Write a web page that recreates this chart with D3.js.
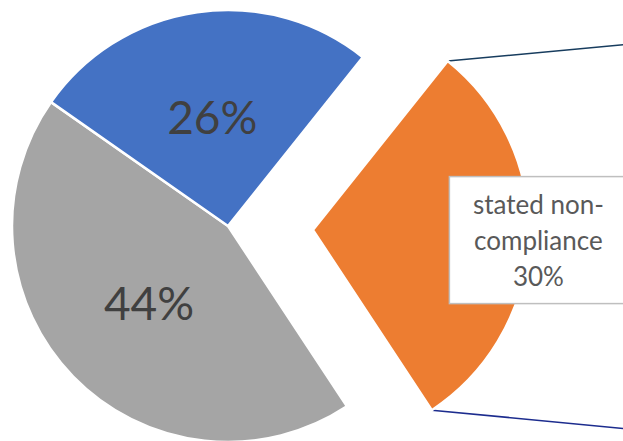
<!DOCTYPE html>
<html>
<head>
<meta charset="utf-8">
<script src="https://cdn.jsdelivr.net/npm/d3@7"></script>
<style>
  html, body { margin: 0; padding: 0; background: #fff; }
  svg { display: block; }
</style>
</head>
<body>
<svg id="chart" width="623" height="441"></svg>
<script>
// Pie slices, in drawing order
const categories = ["stated non-compliance", "other", "stated compliance"];
const values = [30, 44, 26];
const colors = ["#ED7D31", "#A5A5A5", "#4472C4"];
const showName = [true, false, false];

const width = 623, height = 441;
const cx = 228, cy = 226;
const radius = 216;
const explode = 85;            // orange slice pulled out
const startDeg = 38.6;         // first slice starts here (clockwise from 12 o'clock)

const svg = d3.select("#chart");
const g = svg.append("g").attr("transform", `translate(${cx},${cy})`);

const total = d3.sum(values);
const pie = d3.pie().sort(null).value(d => d.value)
  .startAngle(startDeg * Math.PI / 180)
  .endAngle(startDeg * Math.PI / 180 + 2 * Math.PI);

const data = pie(categories.map((c, i) => ({ name: c, value: values[i], color: colors[i], named: showName[i] })));

const arc = d3.arc().innerRadius(0).outerRadius(radius);
const labelArc = d3.arc().innerRadius(0).outerRadius(radius * 1.02);
const boxArc = d3.arc().innerRadius(radius * 1.045).outerRadius(radius * 1.045);

function offset(d) {
  if (!d.data.named) return [0, 0];
  const mid = (d.startAngle + d.endAngle) / 2;
  return [Math.sin(mid) * explode, -Math.cos(mid) * explode];
}

// Connector lines from the pulled-out slice to the secondary chart (off to the right)
const named = data.find(d => d.data.named);
const [ox, oy] = offset(named);
const topPt = [ox + Math.sin(named.startAngle) * radius, oy - Math.cos(named.startAngle) * radius];
const botPt = [ox + Math.sin(named.endAngle) * radius, oy - Math.cos(named.endAngle) * radius];
const farX = width - cx + 2;
g.append("line")
  .attr("x1", topPt[0]).attr("y1", topPt[1])
  .attr("x2", farX).attr("y2", topPt[1] - 16.5)
  .attr("stroke", "#173C5E").attr("stroke-width", 1.6);
g.append("line")
  .attr("x1", botPt[0]).attr("y1", botPt[1])
  .attr("x2", farX).attr("y2", botPt[1] + 18.5)
  .attr("stroke", "#1C2C8E").attr("stroke-width", 1.6);

// Slices
g.selectAll("path.slice").data(data).join("path")
  .attr("class", "slice")
  .attr("transform", d => `translate(${offset(d)})`)
  .attr("d", arc)
  .attr("fill", d => d.data.color)
  .attr("stroke", "#fff")
  .attr("stroke-width", 2.5)
  .attr("stroke-linejoin", "round");

const pct = d => Math.round(d.data.value / total * 100) + "%";

// Percent labels inside the plain slices
g.selectAll("text.pct").data(data.filter(d => !d.data.named)).join("text")
  .attr("class", "pct")
  .attr("x", d => labelArc.centroid(d)[0])
  .attr("y", d => labelArc.centroid(d)[1] + 17)
  .attr("text-anchor", "middle")
  .attr("font-family", "Lato, 'Open Sans', sans-serif")
  .attr("font-size", 46)
  .attr("fill", "#404040")
  .text(pct);

// Callout box with name and percent for the pulled-out slice
const [bx, by] = boxArc.centroid(named);
const boxW = 178, boxH = 127;
const lbl = g.append("g").attr("transform", `translate(${bx + ox},${by + oy})`);
lbl.append("rect")
  .attr("x", -boxW / 2).attr("y", -boxH / 2)
  .attr("width", boxW).attr("height", boxH)
  .attr("fill", "#fff").attr("stroke", "#BFBFBF").attr("stroke-width", 1.5);
const words = ["stated non-", "compliance", pct(named)];
lbl.selectAll("text").data(words).join("text")
  .attr("x", 0)
  .attr("y", (d, i) => -26 + i * 36)
  .attr("text-anchor", "middle")
  .attr("font-family", "Lato, 'Open Sans', sans-serif")
  .attr("font-size", 26)
  .attr("fill", "#595959")
  .text(d => d);
</script>
</body>
</html>
